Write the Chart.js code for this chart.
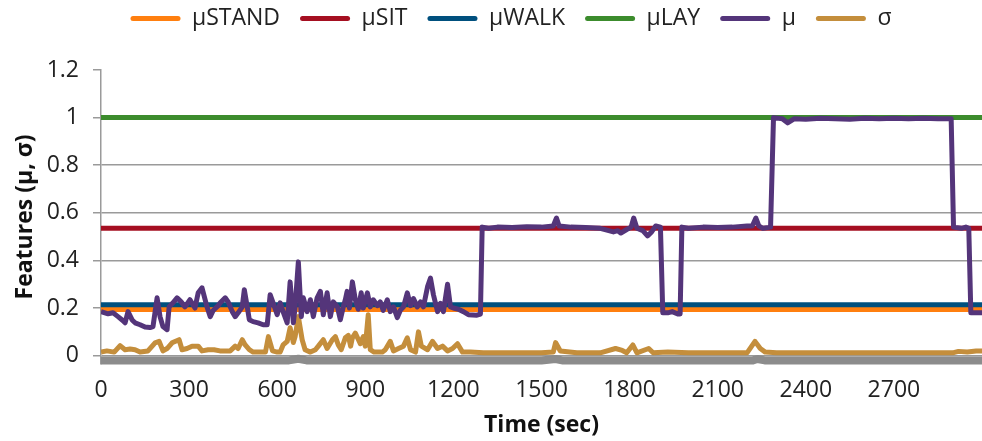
<!DOCTYPE html>
<html>
<head>
<meta charset="utf-8">
<script src="https://cdn.jsdelivr.net/npm/chart.js@4/dist/chart.umd.min.js"></script>
<style>
  html, body { margin: 0; padding: 0; background: #fff; }
  #wrap { width: 982px; height: 441px; }
</style>
</head>
<body>
<div id="wrap"><canvas id="featChart"></canvas></div>
<script>
// class means (constant over time)
const muStand = 0.194;
const muSit = 0.535;
const muWalk = 0.214;
const muLay = 1.0;

// feature μ over time
const muTime = [0, 24, 41, 58, 72, 82, 92, 106, 116, 133, 150, 167, 177, 191, 201, 211, 225, 232, 245, 259,
  273, 286, 303, 320, 331, 344, 361, 372, 382, 399, 406, 423, 433, 447, 457, 467, 481, 488, 498, 505,
  518, 535, 552, 566, 576, 586, 600, 610, 620, 634, 644, 655, 661, 672, 682, 689, 702, 713, 723, 736,
  747, 757, 770, 781, 791, 805, 815, 825, 832, 838, 846, 856, 866, 876, 886, 893, 907, 917, 927, 941,
  951, 961, 975, 985, 996, 1009, 1019, 1030, 1043, 1054, 1064, 1077, 1088, 1098, 1112, 1122, 1132, 1146, 1156, 1166,
  1180, 1190, 1200, 1217, 1234, 1251, 1280, 1292, 1298, 1320, 1350, 1400, 1450, 1500, 1540, 1551, 1560, 1600, 1650, 1700,
  1745, 1760, 1770, 1790, 1805, 1814, 1825, 1845, 1861, 1875, 1889, 1905, 1913, 1930, 1945, 1964, 1972, 1978, 2000, 2050,
  2100, 2150, 2200, 2218, 2230, 2240, 2254, 2280, 2290, 2320, 2338, 2360, 2400, 2450, 2500, 2550, 2600, 2650, 2700, 2750,
  2800, 2850, 2895, 2903, 2930, 2945, 2955, 2962, 2990, 3000];
const muValues = [0.185, 0.176, 0.18, 0.164, 0.15, 0.138, 0.185, 0.15, 0.138, 0.13, 0.12, 0.118, 0.122, 0.243, 0.164, 0.122, 0.109, 0.205, 0.222, 0.243,
  0.226, 0.205, 0.235, 0.2, 0.264, 0.285, 0.205, 0.164, 0.19, 0.21, 0.222, 0.243, 0.226, 0.185, 0.164, 0.18, 0.205, 0.277, 0.205, 0.151,
  0.143, 0.138, 0.13, 0.13, 0.256, 0.222, 0.172, 0.222, 0.185, 0.138, 0.31, 0.138, 0.205, 0.394, 0.164, 0.243, 0.185, 0.235, 0.164, 0.243,
  0.27, 0.172, 0.264, 0.164, 0.226, 0.205, 0.151, 0.205, 0.235, 0.27, 0.2, 0.31, 0.235, 0.195, 0.264, 0.2, 0.264, 0.205, 0.235, 0.21,
  0.226, 0.19, 0.235, 0.185, 0.205, 0.16, 0.19, 0.205, 0.264, 0.21, 0.24, 0.205, 0.226, 0.205, 0.29, 0.326, 0.256, 0.185, 0.22, 0.185,
  0.3, 0.205, 0.2, 0.195, 0.185, 0.172, 0.17, 0.175, 0.54, 0.535, 0.54, 0.538, 0.542, 0.54, 0.545, 0.578, 0.545, 0.54, 0.538, 0.535,
  0.52, 0.525, 0.515, 0.53, 0.54, 0.578, 0.535, 0.525, 0.503, 0.52, 0.545, 0.54, 0.18, 0.18, 0.185, 0.175, 0.175, 0.54, 0.535, 0.54,
  0.538, 0.54, 0.545, 0.545, 0.578, 0.545, 0.535, 0.54, 1.0, 0.995, 0.978, 0.995, 0.993, 0.997, 0.995, 0.993, 0.997, 0.995, 0.997, 0.995,
  0.997, 0.995, 0.995, 0.54, 0.535, 0.54, 0.535, 0.18, 0.18, 0.18];

// feature σ over time
const sigmaTime = [0, 20, 45, 65, 82, 99, 116, 133, 160, 184, 198, 211, 225, 242, 266, 276, 293, 310, 331, 344,
  365, 385, 405, 440, 457, 467, 481, 491, 505, 518, 560, 570, 584, 600, 610, 620, 634, 644, 655, 661,
  672, 685, 695, 713, 730, 740, 757, 770, 788, 798, 808, 818, 832, 842, 850, 856, 866, 883, 893, 900,
  910, 917, 930, 958, 968, 985, 996, 1013, 1030, 1043, 1054, 1071, 1081, 1091, 1112, 1129, 1146, 1163, 1180, 1197,
  1214, 1231, 1258, 1302, 1400, 1500, 1540, 1548, 1564, 1620, 1700, 1752, 1775, 1790, 1811, 1825, 1865, 1880, 1930, 2000,
  2100, 2200, 2227, 2245, 2262, 2300, 2500, 2700, 2900, 2920, 2950, 2980, 3000];
const sigmaValues = [0.015, 0.02, 0.015, 0.042, 0.025, 0.028, 0.025, 0.015, 0.02, 0.054, 0.06, 0.02, 0.03, 0.054, 0.067, 0.025, 0.03, 0.04, 0.04, 0.02,
  0.025, 0.025, 0.02, 0.02, 0.04, 0.03, 0.067, 0.045, 0.025, 0.015, 0.015, 0.08, 0.02, 0.015, 0.015, 0.045, 0.06, 0.117, 0.055, 0.08,
  0.164, 0.067, 0.025, 0.015, 0.025, 0.04, 0.067, 0.03, 0.067, 0.08, 0.045, 0.025, 0.075, 0.085, 0.04, 0.075, 0.095, 0.05, 0.08, 0.04,
  0.172, 0.025, 0.015, 0.015, 0.025, 0.06, 0.02, 0.03, 0.04, 0.075, 0.025, 0.015, 0.1, 0.04, 0.025, 0.06, 0.03, 0.04, 0.02, 0.03,
  0.05, 0.015, 0.015, 0.012, 0.012, 0.012, 0.015, 0.055, 0.02, 0.012, 0.012, 0.03, 0.022, 0.012, 0.045, 0.012, 0.03, 0.012, 0.015, 0.012,
  0.012, 0.012, 0.06, 0.03, 0.015, 0.012, 0.012, 0.012, 0.012, 0.018, 0.015, 0.02, 0.02];

// grey base series along the bottom
const baseTime = [0, 640, 672, 700, 1500, 1548, 1570, 2220, 2235, 2260, 3000];
const baseValues = [-0.02, -0.02, -0.013, -0.02, -0.02, -0.014, -0.02, -0.02, -0.014, -0.02, -0.02];

const xTicks = [0, 300, 600, 900, 1200, 1500, 1800, 2100, 2400, 2700];
const yTicks = [0, 0.2, 0.4, 0.6, 0.8, 1, 1.2];

const pts = (ts, vs) => ts.map((t, i) => ({ x: t, y: vs[i] }));
const flat = v => [{ x: 0, y: v }, { x: 3000, y: v }];

const FONT = "'Open Sans', 'DejaVu Sans', sans-serif";
const GRID = "#9a9a9a";

const line = (label, data, color, order, width) => ({
  label, data, order,
  borderColor: color,
  backgroundColor: color,
  borderWidth: width || 5,
  pointRadius: 0,
  tension: 0,
  borderJoinStyle: "round",
  borderCapStyle: "butt"
});

// shift the legend a bit (Chart.js puts a big gap between sample and text)
const legendNudge = {
  id: "legendNudge",
  beforeLayout(chart) {
    const lg = chart.legend;
    if (!lg || lg._nudged) return;
    lg._nudged = true;
    const fit = lg.fit, draw = lg.draw;
    lg.fit = function () { fit.call(this); this.height = 70; };
    lg.draw = function () {
      const ctx = this.ctx;
      ctx.save();
      ctx.translate(20, -13);
      draw.call(this);
      ctx.restore();
    };
  }
};

const baseSet = line("", pts(baseTime, baseValues), "#8C8C8C", 9, 8);
baseSet.clip = 6;

new Chart(document.getElementById("featChart"), {
  type: "line",
  data: {
    datasets: [
      line("μSTAND", flat(muStand), "#FF7F0F", 3),
      line("μSIT", flat(muSit), "#A50F21", 4),
      line("μWALK", flat(muWalk), "#00507E", 2),
      line("μLAY", flat(muLay), "#3C8C2D", 5),
      line("μ", pts(muTime, muValues), "#54357A", 0),
      line("σ", pts(sigmaTime, sigmaValues), "#C48E3C", 1),
      baseSet
    ]
  },
  options: {
    responsive: true,
    maintainAspectRatio: false,
    animation: false,
    events: [],
    layout: { padding: 0 },
    plugins: {
      tooltip: { enabled: false },
      legend: {
        position: "top",
        labels: {
          font: { family: FONT, size: 23 },
          color: "#222",
          boxWidth: 50,
          boxHeight: 5,
          padding: 20,
          useBorderRadius: true,
          borderRadius: 2.5,
          sort: (a, b) => a.datasetIndex - b.datasetIndex,
          generateLabels: chart =>
            Chart.defaults.plugins.legend.labels.generateLabels(chart)
              .filter(it => it.text !== "")
              .map(it => Object.assign(it, { fillStyle: it.strokeStyle, lineWidth: 0 }))
        }
      }
    },
    scales: {
      x: {
        type: "linear",
        min: 0,
        max: 3000,
        afterBuildTicks: s => { s.ticks = xTicks.map(v => ({ value: v })); },
        afterFit: s => { s.height = 77; },
        grid: { display: false },
        border: { display: false },
        ticks: {
          autoSkip: false,
          maxRotation: 0,
          padding: 5,
          color: "#222",
          font: { family: FONT, size: 23 },
          callback: v => String(v)
        },
        title: {
          display: true,
          text: "Time (sec)",
          color: "#111",
          font: { family: FONT, size: 23, weight: "bold" },
          padding: { top: 2, bottom: 2 }
        }
      },
      y: {
        min: -0.035,
        max: 1.2,
        afterBuildTicks: s => { s.ticks = yTicks.map(v => ({ value: v })); },
        afterFit: s => { s.width = 101; },
        grid: {
          color: c => (c.tick && c.tick.value >= 1.2 ? "rgba(0,0,0,0)" : GRID),
          tickColor: GRID,
          lineWidth: 1.5,
          tickLength: 8
        },
        border: { color: GRID, width: 1.5 },
        ticks: {
          padding: 14,
          color: "#222",
          font: { family: FONT, size: 23 },
          callback: v => String(v)
        },
        title: {
          display: true,
          text: "Features (μ, σ)",
          color: "#111",
          font: { family: FONT, size: 23, weight: "bold" },
          padding: { top: 12, bottom: 0 }
        }
      }
    }
  },
  plugins: [legendNudge]
});
</script>
</body>
</html>
